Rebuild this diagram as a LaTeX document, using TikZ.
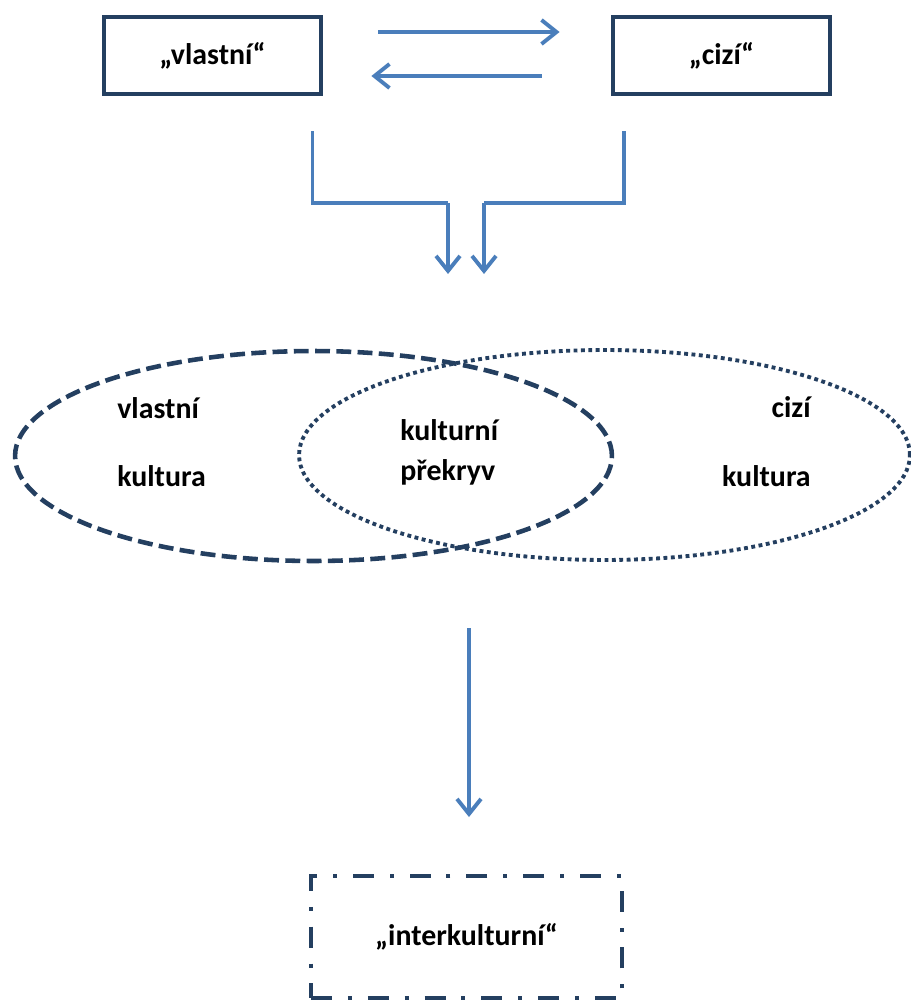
\documentclass[tikz,border=0pt]{standalone}
\usepackage{fontspec}
\setmainfont{Carlito}
\usetikzlibrary{arrows.meta,positioning,shapes.geometric}
\definecolor{navy}{HTML}{243F60}
\definecolor{flowblue}{HTML}{4A7EBB}
\tikzset{
  txt/.style={font=\bfseries\fontsize{17}{20}\selectfont, inner sep=0pt},
  termbox/.style={txt, draw=navy, line width=2.8pt, minimum width=4.34cm, minimum height=1.54cm},
  flow/.style={flowblue, line width=2.2pt, -{Straight Barb[length=0.3cm,width=0.48cm]}},
  ownline/.style={draw=navy, line width=2.6pt, dash pattern=on 8.5pt off 3.6pt},
  frgnline/.style={draw=navy, line width=2.2pt, dash pattern=on 2.2pt off 2.0pt}
}
\begin{document}
\begin{tikzpicture}[x=0.02cm,y=-0.02cm]
  \useasboundingbox (0,0) rectangle (910,1001);
  % the two poles
  \node[termbox] (own) at (212.5,55.5) {„vlastní“};
  \node[termbox] (frgn) at (721.5,55.5) {„cizí“};
  \draw[flow, shorten <=1.1cm, shorten >=1.02cm] ([yshift=0.47cm]own.east) -- ([yshift=0.47cm]frgn.west);
  \draw[flow, shorten <=1.38cm, shorten >=0.96cm] ([yshift=-0.41cm]frgn.west) -- ([yshift=-0.41cm]own.east);
  \coordinate (inL) at (448,274);
  \coordinate (inR) at (484,274);
  \draw[flow, -, shorten <=0.7cm] ([xshift=2cm]own.south) |- ([yshift=1.42cm]inL);
  \draw[flow] ([yshift=1.42cm]inL) -- (inL);
  \draw[flow, -, shorten <=0.7cm] ([xshift=-1.95cm]frgn.south) |- ([yshift=1.42cm]inR);
  \draw[flow] ([yshift=1.42cm]inR) -- (inR);
  % the two cultures
  \node[ellipse, frgnline, minimum width=12.22cm, minimum height=4.2cm] (frgnc) at (604.5,455) {};
  \node[ellipse, ownline, minimum width=11.94cm, minimum height=4.2cm] (ownc) at (313.5,456) {};
  \node[txt, anchor=base west] (own1) at (117,418) {vlastní};
  \node[txt, anchor=base west] (own2) at (117,486) {kultura};
  \node[txt, anchor=base west] (mid1) at (400,440) {kulturní};
  \node[txt, anchor=base west] (mid2) at (400,480) {překryv};
  \node[txt, anchor=base east] (frgn1) at (811,417) {cizí};
  \node[txt, anchor=base east] (frgn2) at (811,486) {kultura};
  % result
  \node[termbox, line width=2.3pt, minimum width=6.22cm, minimum height=2.44cm, dash pattern=on 12pt off 9pt on 2.3pt off 9pt] (inter) at (466.5,937) {„interkulturní“};
  \draw[flow] ([xshift=0.05cm,yshift=4.92cm]inter.north) -- ([xshift=0.05cm,yshift=1.14cm]inter.north);
\end{tikzpicture}
\end{document}
